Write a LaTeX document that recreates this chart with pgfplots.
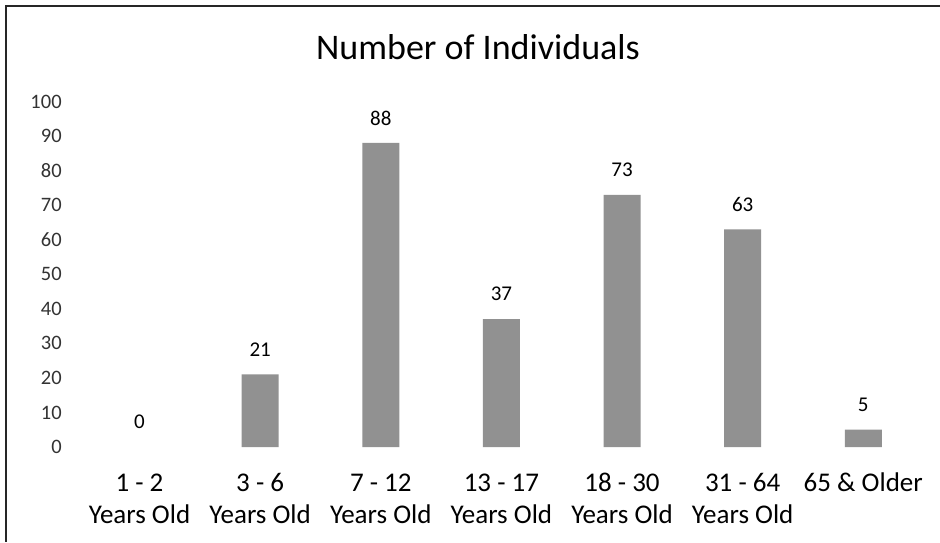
\documentclass[border=0pt]{standalone}
\usepackage{pgfplots}
\pgfplotsset{compat=1.18}
\usepackage{fontspec}
\setmainfont{Carlito}
\definecolor{bargray}{RGB}{145,145,145}
\begin{document}
\begin{tikzpicture}[x=1pt,y=1pt]
\useasboundingbox (0,0) rectangle (940,542);
\fill[white] (0,0) rectangle (940,542);
\draw[line width=2pt, black!85] (5,536) -- (940,536);
\draw[line width=1.5pt, black!85] (6,536) -- (6,0);
\node[anchor=base, font=\fontsize{36}{43}\selectfont] at (478,482) {Number of Individuals};
\begin{axis}[
  at={(79.2pt,95pt)}, anchor=south west,
  scale only axis,
  width=844.4pt, height=345.5pt,
  xmin=-0.5, xmax=6.5, ymin=0, ymax=100,
  ybar, bar width=37pt, bar shift=0pt,
  axis line style={draw=none},
  tick style={draw=none},
  ytick={0,10,...,100},
  yticklabel style={font=\fontsize{20.5}{24}\selectfont, text=black!80, xshift=-14pt},
  /pgf/number format/assume math mode=true,
  xtick={0,1,2,3,4,5,6},
  xticklabels={{\strut 1 - 2\\\strut Years Old},{\strut 3 - 6\\\strut Years Old},{\strut 7 - 12\\\strut Years Old},{\strut 13 - 17\\\strut Years Old},{\strut 18 - 30\\\strut Years Old},{\strut 31 - 64\\\strut Years Old},{\strut 65 \& Older\\\strut}},
  xticklabel style={align=center, anchor=north, font=\fontsize{27}{31.5}\selectfont, yshift=-15pt},
  nodes near coords,
  nodes near coords style={font=\fontsize{21}{25}\selectfont, anchor=center, yshift=25pt},
  clip=false,
]
\addplot[fill=none, draw=none] coordinates {(0,0)};
\addplot[fill=bargray, draw=none] coordinates {(1,21) (2,88) (3,37) (4,73) (5,63) (6,5)};
\end{axis}
\end{tikzpicture}
\end{document}
